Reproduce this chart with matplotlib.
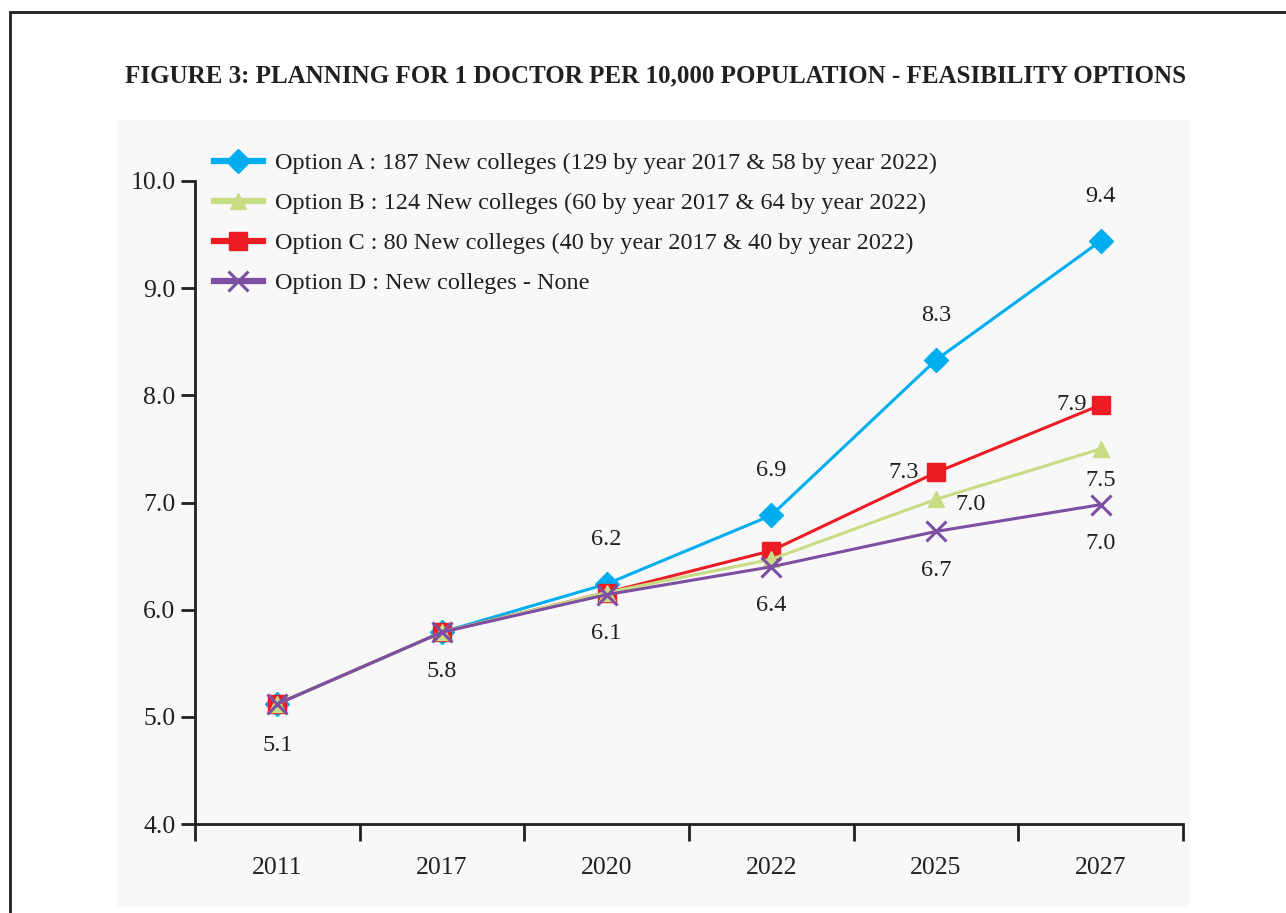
import numpy as np
import matplotlib.pyplot as plt
from matplotlib.patches import Rectangle

# ================= DATA =================
years = ["2011", "2017", "2020", "2022", "2025", "2027"]
option_a = [5.12, 5.79, 6.24, 6.88, 8.33, 9.44]
option_b = [5.12, 5.79, 6.16, 6.47, 7.03, 7.50]
option_c = [5.12, 5.79, 6.16, 6.55, 7.28, 7.91]
option_d = [5.12, 5.79, 6.14, 6.40, 6.73, 6.98]

label_a = "Option A : 187 New colleges (129 by year 2017 & 58 by year 2022)"
label_b = "Option B : 124 New colleges (60 by year 2017 & 64 by year 2022)"
label_c = "Option C : 80 New colleges (40 by year 2017 & 40 by year 2022)"
label_d = "Option D : New colleges - None"

title = "FIGURE 3: PLANNING FOR 1 DOCTOR PER 10,000 POPULATION - FEASIBILITY OPTIONS"

# ================= STYLE =================
plt.rcParams['font.family'] = ['Liberation Serif', 'DejaVu Serif']
INK = '#231f20'
FS = 17.5

fig = plt.figure(figsize=(12.86, 9.13), dpi=100)

# outer frame and grey panel
fig.patches.append(Rectangle((10 / 1286, -0.1), 1.2, 1 - 12 / 913 + 0.1,
                             transform=fig.transFigure, fill=False,
                             edgecolor=INK, linewidth=2, zorder=-2))
fig.patches.append(Rectangle((117 / 1286, 1 - 907 / 913), (1190 - 117) / 1286,
                             (907 - 120) / 913, transform=fig.transFigure,
                             facecolor='#f8f8f8', edgecolor='none', zorder=-1))

fig.text(656 / 1286, 1 - 76 / 913, title, ha='center', va='center',
         fontsize=18, fontweight='bold', color=INK)

ax = fig.add_axes([195 / 1286, 1 - 824 / 913, (1183 - 195) / 1286, (824 - 181) / 913])
ax.set_facecolor('none')

x = np.arange(len(years))

ax.plot(x, option_a, color='#00aeef', lw=2.2, marker='D', ms=12, zorder=3, label=label_a, clip_on=False)
ax.plot(x, option_c, color='#ed1c24', lw=2.2, marker='s', ms=13, zorder=4, label=label_c, clip_on=False)
ax.plot(x, option_b, color='#c8dc84', lw=2.2, marker='^', ms=12, zorder=5, label=label_b, clip_on=False)
ax.plot(x, option_d, color='#7d4fa3', lw=2.2, marker='x', ms=14, mew=2.2, zorder=6, label=label_d, clip_on=False)

ax.set_xlim(-0.5, len(years) - 0.5)
ax.set_ylim(4, 10)
ax.set_yticks(np.arange(4, 10.1, 1))
ax.set_yticklabels([f"{v:.1f}" for v in np.arange(4, 10.1, 1)])
ax.set_xticks(x)
ax.set_xticklabels(years)
ax.set_xticks(np.arange(-0.5, len(years)), minor=True)
ax.tick_params(axis='x', which='major', length=0, pad=24, labelsize=18.5, colors=INK)
ax.tick_params(axis='x', which='minor', length=12, width=2, color=INK)
ax.tick_params(axis='y', length=10, width=2, pad=4, labelsize=18.5, colors=INK)

for s in ['top', 'right']:
    ax.spines[s].set_visible(False)
for s in ['left', 'bottom']:
    ax.spines[s].set_linewidth(2)
    ax.spines[s].set_color(INK)

# ================= DATA LABELS =================
def lab(xi, yi, dx, dy, ha='center'):
    ax.annotate(f"{yi:.1f}", (xi, yi), xytext=(dx, dy), textcoords='offset points',
                ha=ha, va='center', fontsize=FS, color=INK, zorder=7)

lab(0, option_a[0], 0, -30)
lab(1, option_a[1], 0, -28)
for i in range(2, 6):
    lab(i, option_a[i], 0, 32)
for i in range(2, 6):
    lab(i, option_d[i], 0, -28)
lab(4, option_c[4], -12, 0, ha='right')
lab(5, option_c[5], -10, 0, ha='right')
lab(4, option_b[4], 14, -4, ha='left')
lab(5, option_b[5], 0, -23)

# ================= LEGEND =================
handles, labels = ax.get_legend_handles_labels()
order = [0, 2, 1, 3]
leg = fig.legend([handles[i] for i in order], [labels[i] for i in order],
                 loc='upper left', bbox_to_anchor=(214 / 1286, 1 - 152 / 913),
                 frameon=False, fontsize=FS, handlelength=2.0, handletextpad=0.5,
                 labelspacing=0.74, borderpad=0, borderaxespad=0, labelcolor=INK)
for ln in leg.get_lines():
    ln.set_linewidth(4.5)

fig.savefig('out.png', dpi=100)
